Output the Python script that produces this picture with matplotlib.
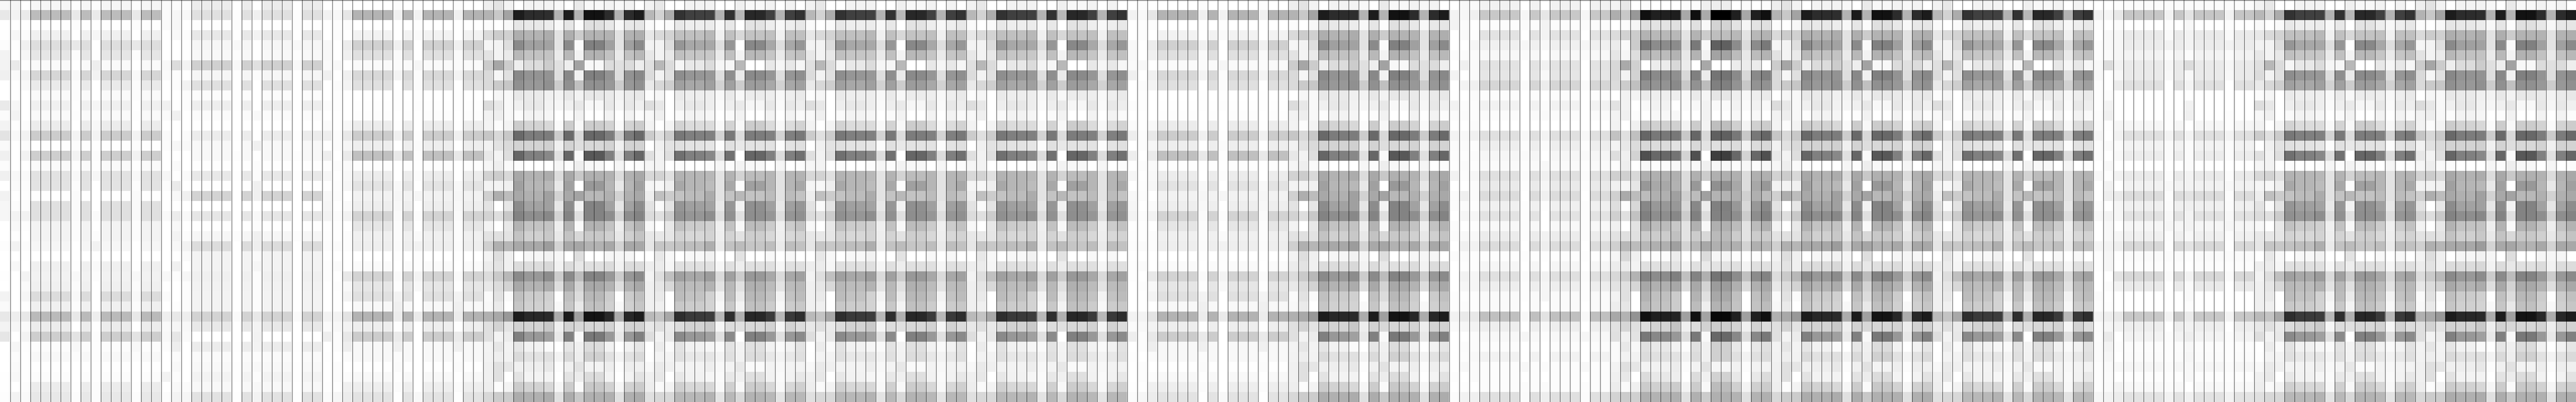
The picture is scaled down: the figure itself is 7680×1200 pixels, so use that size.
"""
Grey cell matrix, 256 columns x 40 rows, black lines between the columns.
Columns repeat in blocks of 16, so each block kind keeps one table of the
distinct columns (grey levels in hex, read off the picture).
"""

import matplotlib
matplotlib.use('Agg')
import matplotlib.pyplot as plt
import numpy as np

# dark blocks, row by row, columns: P0 P1 P2 D1 D2 D3 L G D0
STRONG = [
    "ee e4 f4 ff f4 f4 f8 ea f8", "b4 c8 a4 1c 2c 2e b4 b4 12", "fc ff f8 e6 e8 ec f8 fc e0",
    "da cc d0 ae b4 ac e2 cc b4", "f6 f4 de 8a a0 a2 e4 fa 80", "e4 f4 ea b8 c2 c4 ea f4 b2",
    "cc a6 cc ee dc cc e0 a2 f8", "da f6 e0 88 94 94 de f2 80", "da ca c6 90 98 90 cc c0 90",
    "ff f6 f8 e8 ea f0 f4 f4 e8", "dc e8 f8 f0 e8 f2 f6 e8 f8", "f2 ee f8 fc f4 f6 ff f2 ff",
    "f4 fc f4 cc d4 d8 fa f8 cc", "c6 d8 c8 6a 7c 7c cc d8 68", "f2 e2 da d4 d4 d0 f0 de d8",
    "e8 f4 de 66 80 88 e0 fa 58", "f6 ee fa fc ff ff f6 ee f8", "d2 cc d8 a8 b2 ac dc c8 b0",
    "f4 f4 f0 a0 b6 b8 e8 ff 98", "d0 ae bc a8 b0 a0 d2 a4 b8", "e4 ff e6 8c a2 a0 e6 f4 84",
    "d4 de c8 84 8e 88 d4 e0 84", "f4 ff e8 b4 c4 c4 ee fa b2", "e4 e0 e4 c4 d0 c8 e8 d8 c8",
    "d0 b0 b6 a8 a8 9c d4 a6 b2", "f4 de f0 ff f6 f2 f6 de ff", "ec e4 f0 dc dc d8 f2 e8 e0",
    "dc ca b8 8a 98 8c cc bc 84", "e8 dc d4 a8 b4 ac de d4 a8", "fa e2 fa c0 cc d0 fe dc b8",
    "f8 ea ff c6 d0 d4 f8 e8 c0", "b0 a8 98 1c 28 2a ac a0 14", "e0 d4 e4 d2 d4 c8 ee d8 d6",
    "e0 f4 ec 80 98 a0 e8 f8 78", "f4 e6 f4 e6 f2 fa ff f0 dc", "f2 ee f2 da e2 e0 f4 ee d0",
    "f0 e0 e6 f0 ee e8 fc e2 f4", "f0 e0 ff e4 f4 f4 ff ec dc", "ee fc f4 cc d2 d8 f6 fa c8",
    "d8 cc cc ac b0 ac e0 c8 b0",
]
WEAK = [
    "f2 e8 ff ff f4 f4 ff f0 f8", "b8 d4 ac 32 40 40 b4 b8 28", "fa ff fa e8 ee ec f8 ff e4",
    "e8 da d4 c0 c0 b8 f0 d8 c4", "f4 f4 dc 96 a8 a8 de ff 88", "e8 f4 e8 c0 c6 c8 ea f4 b8",
    "e0 b8 dc f6 e8 dc f6 b8 ff", "dc f4 e0 8e 96 98 de ea 8a", "ea d8 ce a0 a8 a0 d2 cc 9c",
    "fc f6 ff ea ee ee f8 f8 ec", "de e8 ff ee e8 ee fa ea f6", "f8 f0 ff fa f4 f6 ff f4 ff",
    "f4 ff f4 d4 dc dc f8 f8 cc", "cc e0 cc 78 80 80 d4 dc 7c", "ff f0 e4 e0 e4 e6 fc e8 e4",
    "e0 f2 de 70 80 88 dc ff 66", "f6 f4 ff fc ff fc f6 f4 f8", "d8 d4 e0 b4 b6 b8 e4 d4 bc",
    "f6 f8 ee a8 b6 bc e4 fc a0", "ee c0 cc c4 bc ac e4 b8 c4", "e4 fa e4 96 a0 a4 e8 f2 90",
    "dc e0 cc 90 96 8e de e0 8e", "f8 ff e8 c2 cc d0 f0 f8 bc", "e8 e8 e6 d4 d8 d4 ee e2 ce",
    "e6 c6 c8 c2 be ae ea bc c6", "ff e8 f8 ff f8 f2 ff e4 ff", "ee ec f6 e0 e0 e0 f6 ee e0",
    "f4 de c0 a0 a8 9c da cc 98", "f0 e6 d8 b8 bc b4 e4 e0 b0", "f0 ea ff bc c4 d2 f4 ea b8",
    "f0 f0 ff c8 cc d4 f8 f4 c0", "ba c4 a8 2e 3a 3c b8 b0 28", "e8 e0 ea dc d4 ca f6 e0 d8",
    "de f4 e8 8a 98 a0 e0 ff 80", "ff ec fa e4 f2 f6 fa f4 e0", "fe f4 f4 e0 e8 e6 f4 f2 dc",
    "f8 ea f0 f4 f4 ee f8 e8 fa", "f0 e8 ff e8 f2 f6 fa f0 e0", "ee fa f4 d0 d8 d8 f8 f8 cc",
    "e0 d8 d8 b8 b8 b4 e4 d8 b4",
]
DARKEST = [
    "f4 e8 ff fc ff ff fb f0 ee", "ae c8 98 10 20 1e a8 aa 00", "ff fc f6 e0 e4 e0 f6 f8 d4",
    "dc d2 cc b4 b8 b8 e4 cc be", "ec fa cc 7a 8c 8c dc f8 60", "e6 f6 de b4 bc b4 e8 f2 a4",
    "d8 aa d0 ff ec d8 ec a8 ff", "d8 f4 d4 80 8a 90 d8 ec 74", "dc cc c0 92 94 8a c8 bc 80",
    "ff f2 f4 ea ee ee f8 f6 e6", "e2 f2 ff f8 f2 ff fa f2 fa", "f4 f0 fc ff f8 f8 ff f2 ff",
    "f2 ff f0 cc d0 d0 f4 f4 be", "c2 e0 c0 66 78 78 c8 d8 60", "f4 e8 dc d8 dc e2 f2 e4 e0",
    "de f0 d4 50 68 74 d4 ff 3e", "fc ee ff f8 fc f8 f8 f0 f8", "d0 d0 d8 b0 b0 b0 dc cc b0",
    "f0 f6 e6 98 a8 b2 dc ff 90", "d0 aa bc bc b0 a0 d0 a0 b4", "de fc d8 88 98 98 d8 ec 80",
    "d0 e0 c2 80 8e 88 cc dc 82", "f0 ff e4 b0 bc c8 e4 f8 b0", "e2 e0 e0 cc cc c0 e4 d8 ba",
    "d0 b8 bc b8 b0 a0 d4 a8 b0", "f6 d8 f0 ff fc ec ff dc f6", "ec ec f4 e0 e0 e4 f4 ea e4",
    "d8 cc b4 84 8c 80 c0 b0 74", "e4 e0 d6 a8 b0 a8 dc d4 9c", "f4 e0 ff b4 c0 cc ff e0 a8",
    "ee e6 ff bc c4 cc ff ee b4", "a8 b4 94 10 20 24 a0 a4 08", "e2 d6 e0 dc d4 c4 f0 d2 ce",
    "e0 f0 e4 78 88 98 dc f8 68", "fa e8 f8 e0 e8 f2 fc f0 d0", "fa f2 f2 dc e0 e2 f2 f0 d0",
    "f4 e0 e6 f4 f2 ec fc e2 f6", "f0 e8 ff dc e8 ee ff f0 d2", "ec fa f0 cc d0 cc f4 f8 bc",
    "d4 cc d0 b0 b4 b0 e0 cc b0",
]

# light blocks, row by row, columns: P0 P1 P2 D L G
LIGHT_A = [
    "f8 f6 ff f6 fd fc", "e8 f4 ea bc e8 ea", "ff ff fe fe fc ff", "fe f6 fc f0 ff f6",
    "fc fe f0 de e8 ff", "f4 ff f6 e6 fc fe", "f4 ea fe fa ff ee", "f0 fa f4 d6 f8 f4",
    "ff ff f8 ea fc ff", "ff fe ff fa fc ff", "ea f6 ff f0 fe f6", "fb f4 ff fa fd fc",
    "f4 fd fc ec ff f8", "e4 f8 f2 cc f4 f4", "fa ff fc fe fc fe", "f0 ff f2 ce f2 fc",
    "fc ff ff fa fe fe", "f0 f8 fa e2 f8 f6", "ff fa fc e4 fc ff", "f2 ff fd fe fa ff",
    "f6 fc fd e0 fa ff", "f6 f4 f2 e0 fa fa", "ff f8 fd f4 fc ff", "ff fd ff f4 fc fc",
    "fd f2 fc f6 ff f2", "ff ff fe ff ff ff", "ff f8 ff f0 fe fa", "fe ff f4 f2 f8 fc",
    "ff ff fa f0 fb ff", "f4 ff f6 dc f8 ff", "fa ff fe f0 fc ff", "e8 ee e8 ba e8 ee",
    "f4 f6 fa ec ff fe", "e6 ff f4 ce e4 fc", "ff f6 fd fc f8 fd", "ff fc fe f8 fc fd",
    "ff fa fe fe ff fe", "fe f8 fe fc ff fe", "fe ff fc ec fe fc", "fd f4 fa e8 fc fc",
]
LIGHT_B = [
    "fa fc fc ec ff ff", "fb f6 f8 e0 fd f0", "fa f6 ff fe fc ff", "fe f8 fc e8 ff f4",
    "ff ff fe f6 f8 ff", "ff ff ff f8 fd ff", "f8 dc f4 d0 f8 e0", "fa fc ff f6 ff fc",
    "ff fc f2 e0 ff ff", "ff ff fc fc fe ff", "f0 ff fc ee fe ff", "fa f0 ff fb ff f8",
    "ff ff ff ff ff ff", "fa ff fb ec fe ff", "fc f6 f8 f8 ff f0", "ff ff ff f8 fd ff",
    "ff fa ff fe ff fc", "f6 ff fa e8 fe fc", "fc ea ff fe ff f0", "ff f8 f0 d4 ff f0",
    "ff ff ff ff ff ff", "fa ec f8 e6 ff f8", "ff f8 ff fe ff fc", "ff f4 fc f6 fc f0",
    "ff f8 f2 dc ff ee", "ff ff fa f4 ff fa", "ff f0 ff f4 ff f6", "f8 fc f6 f0 ff fc",
    "ff ff fc f2 ff fc", "fb ff fc f4 ff fc", "ff fd fc f4 ff fc", "ee e8 ee d4 fa e8",
    "fa f6 f8 e8 ff f4", "f8 e6 fa ff ff f2", "fc ee ff ec fe f4", "ff fb ff fa ff fc",
    "ff f8 ff f8 fe f8", "f2 fc ff f4 fe fc", "ff f8 fb f8 ff f8", "fc f4 f6 e2 fe f4",
]
LIGHT_C = [
    "ff fc fe ff fc fe", "f2 f8 e6 b4 f0 f2", "ff fd fc ff ff fe", "ff fc ff f2 ff fa",
    "f8 ff ec d0 f0 ff", "f8 ff f0 e0 fa ff", "fa f8 ff fa fb f6", "f0 ff f0 d8 f4 fc",
    "ff fb f4 e0 ff fb", "ff fd ff ff fe fe", "fc fd ff fe fe fd", "ff fe ff fd ff ff",
    "fb fe f8 ec fe ff", "ee fc e8 cc f0 fd", "ff fc f6 ee ff fb", "ee ff ea c0 e8 fd",
    "fe fc fa fd ff fe", "f6 fe f8 ec ff fc", "ff fd f6 e4 f8 ff", "f8 fc ff f2 f6 f6",
    "f6 ff fa ee f8 ff", "f4 fc f2 d4 fa fc", "fe fe ff e6 fc ff", "fd fe fc f0 fc fa",
    "fc fb fc ee fb f2", "fe ff ff ff fe fd", "fd fb ff fa ff fd", "fd ff e8 d4 fa f4",
    "ff fd f8 e6 fd f8", "ff fe f4 e0 f4 ff", "ff fe ff f8 f0 ff", "f4 f4 e4 b4 ec ea",
    "fb f8 f4 ee fe ff", "ee fc e8 cc ea ff", "ff fc ee f8 f0 ff", "fe ff fb f8 fc ff",
    "ff fc ff fe fb ff", "ff fc fc f8 fe ff", "fe fe f0 ee fb ff", "fb f6 ec e4 fe f8",
]

# these two were read column by column: P0, P1, P2, D, L, G
LIGHT_E = [
    "ff f4 f4 ff ff fb ff f4 ff ff f2 fb ff f4 fb fc fd f2 ff fb fc ff fc fb ff fb ff ff ff fd fd f2 fa ff ff ff ff fd ff fc",
    "f8 f6 fb fa ff fb ef ff f4 ff fc fb ff f8 fb fd fb fc ff ef fb f6 ff f8 f0 fb fd f2 f6 fd fb ea f6 ff fc fd f8 ff fd f2",
    "fa f0 ff fd f6 fb fa fa f0 fb fd fd fb f0 fd fb fd f6 fb fb fd f6 fd f8 f2 fd fd f6 f6 fd fd e8 f4 fb fb f8 fb fb ff f0",
    "f2 c8 fc e4 f0 f8 e4 e6 d6 fc f2 fb ff e0 ee f6 fa e0 ea dc f0 e4 f8 ec dc fd f6 e0 ee fa fa c0 ee f8 fc f2 fc fc fc e0",
    "ff f6 fb ff f6 fb ff ff fb ff ff ff ff f8 fd fa fd fb fd ff fd fd fd fd ff fd ff fb fd fd ff f8 ff f6 ff ff f8 ff fc fb",
    "ff e6 f4 f4 f8 ff f2 f8 ec ff fc fa ff f4 fb ff f8 f0 f6 f0 fd ff ff f2 ee fd ff f2 f6 f6 ff e4 f8 fd ff ff fb ff fb ee",
]
LIGHT_F = [
    "ff f2 fc ff fc fc f8 f8 fd fd fd fc fa f6 fb fb ff f8 ff ff fc f8 ff ff f6 fd fd ff ff fb fc f4 fb fc fb fb fd fd fd f6",
    "ff f5 ff f8 f8 fa dc ff ff fc f4 f0 fe ff fa ff f8 fd f2 ee ff f4 f8 f8 f4 f6 f6 ff fb fe fd ee f6 ea f4 f6 fa fb fa f2",
    "fd e8 fb f6 f6 f6 f2 f8 ec ff ff ff f6 f2 fb f8 ff f2 ff ea f6 f6 ff f6 ee fe ff e4 f2 ff ff e8 f4 ff fd ff f8 ff f4 ec",
    "fb c6 ff ea ec f4 ea ea e0 ff ff ff f6 e0 f4 ec ff ea f2 dc f0 e2 f6 f0 d8 fa fc d8 ea ff ff c8 ee f4 fc fb f6 fd f8 e4",
    "fb f2 fd fa f2 fb f6 f8 ff ff ff fd fd f4 fb fb ff fc f8 fc fb f8 f6 fc fd fb fd fa ff ff ff f4 ff fc fd fd fb fd fb f2",
    "fb e4 f8 f4 f4 fc dc f8 f4 ff f2 f0 ff f4 fb fb fb f4 f4 e4 f0 f4 f4 f8 e4 fd ff f2 fa fa fd ea f2 ee f8 f6 f8 f8 ff f0",
]

# which table each block of 16 columns uses
BLOCK_TABLES = ['A', 'B', 'C', 'strong', 'weak', 'weak', 'weak', 'C',
                'strong', 'E', 'darkest', 'strong', 'weak', 'F', 'weak', 'strong']
# which column of the table each of the 16 positions uses
DARK_POSITIONS = [0, 1, 2, 3, 4, 4, 5, 6, 3, 7, 8, 8, 4, 6, 4, 3]
LIGHT_POSITIONS = [0, 1, 2, 3, 3, 3, 3, 4, 3, 5, 3, 3, 3, 4, 3, 3]


def parse_rows(rows):
    return np.array([[int(v, 16) for v in row.split()] for row in rows])


def build_matrix():
    tables = {
        'strong': parse_rows(STRONG),
        'weak': parse_rows(WEAK),
        'darkest': parse_rows(DARKEST),
        'A': parse_rows(LIGHT_A),
        'B': parse_rows(LIGHT_B),
        'C': parse_rows(LIGHT_C),
        'E': parse_rows(LIGHT_E).T,
        'F': parse_rows(LIGHT_F).T,
    }
    blocks = []
    for name in BLOCK_TABLES:
        positions = LIGHT_POSITIONS if tables[name].shape[1] == 6 else DARK_POSITIONS
        blocks.append(tables[name][:, positions])
    return np.hstack(blocks)


matrix = build_matrix()
n_rows, n_cols = matrix.shape

fig = plt.figure(figsize=(76.8, 12), dpi=100)
ax = fig.add_axes([0, 0, 1, 1])
ax.imshow(matrix, cmap='gray', vmin=0, vmax=255, aspect='auto',
          interpolation='nearest', extent=(0, n_cols, n_rows, 0))

# one pixel black lines, no antialiasing so they stay solid black
half_pixel = 0.5 / 30
ax.vlines(np.arange(1, n_cols) + half_pixel, 0, n_rows, color='black',
          linewidth=0.72, antialiased=False)
ax.hlines(half_pixel, 0, n_cols, color='black', linewidth=0.72, antialiased=False)
ax.set_xlim(0, n_cols)
ax.set_ylim(n_rows, 0)
ax.axis('off')

fig.savefig('out.png', dpi=100)
